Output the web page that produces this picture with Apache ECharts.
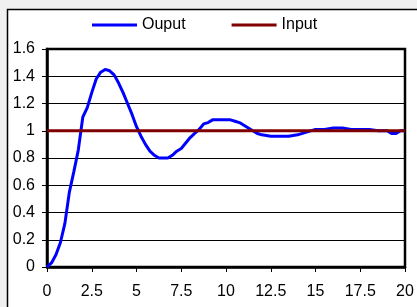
<!DOCTYPE html>
<html>
<head>
<meta charset="utf-8">
<script src="https://cdn.jsdelivr.net/npm/echarts@6/dist/echarts.min.js"></script>
<style>
  html, body { margin: 0; padding: 0; background: #f0f0f0; }
  #chart { width: 417px; height: 307px; }
</style>
</head>
<body>
<div id="chart"></div>
<script>
// step response
var outT = [0, 0.25, 0.5, 0.75, 1, 1.25, 1.5, 1.75, 2, 2.25, 2.5, 2.75, 3, 3.25, 3.5, 3.75, 4, 4.25, 4.5, 4.75,
  5, 5.25, 5.5, 5.75, 6, 6.25, 6.5, 6.75, 7, 7.25, 7.5, 7.75, 8, 8.25, 8.5, 8.75, 9, 9.25, 9.5, 9.75,
  10, 10.25, 10.5, 10.75, 11, 11.25, 11.5, 11.75, 12, 12.5, 13, 13.5, 14, 14.5, 15, 15.5, 16, 16.5,
  17, 17.5, 18, 18.5, 19, 19.25, 19.5, 19.75, 20];
var outY = [0, 0.03, 0.09, 0.18, 0.32, 0.55, 0.70, 0.86, 1.10, 1.17, 1.28, 1.38, 1.43, 1.45, 1.44, 1.41, 1.35, 1.28, 1.20, 1.12,
  1.03, 0.96, 0.90, 0.85, 0.82, 0.80, 0.80, 0.80, 0.82, 0.85, 0.87, 0.91, 0.95, 0.98, 1.01, 1.05, 1.06, 1.08, 1.08, 1.08,
  1.08, 1.08, 1.07, 1.06, 1.04, 1.02, 1.00, 0.98, 0.97, 0.96, 0.96, 0.96, 0.97, 0.99, 1.01, 1.01, 1.02, 1.02,
  1.01, 1.01, 1.01, 1.00, 1.00, 0.98, 0.98, 1.00, 1.00];
var inT = [0, 20];
var inY = [1, 1];

var font = 'Liberation Sans, Arial, sans-serif';

function pairs(xs, ys) {
  return xs.map(function (x, i) { return [x, ys[i]]; });
}

var chart = echarts.init(document.getElementById('chart'));
chart.setOption({
  backgroundColor: '#f0f0f0',
  animation: false,
  graphic: [{
    type: 'rect',
    z: -10,
    shape: { x: 7.5, y: 9.5, width: 420, height: 310 },
    style: { fill: '#ffffff', stroke: '#000000', lineWidth: 1.5 }
  }],
  legend: {
    left: 87,
    top: 12,
    itemWidth: 45,
    itemHeight: 3,
    itemGap: 46,
    icon: 'rect',
    textStyle: { fontFamily: font, fontSize: 16, color: '#000' },
    data: ['Ouput', 'Input']
  },
  grid: {
    left: 47, right: 12, top: 49, bottom: 40,
    show: true,
    borderColor: '#000',
    borderWidth: 2.5,
    backgroundColor: '#ffffff'
  },
  xAxis: {
    type: 'value',
    min: 0, max: 20, interval: 2.5,
    axisLine: { lineStyle: { color: '#000', width: 2.5 } },
    axisTick: { show: true, length: 5, lineStyle: { color: '#000' } },
    axisLabel: { fontFamily: font, fontSize: 16, color: '#000', margin: 17 },
    splitLine: { show: false }
  },
  yAxis: {
    type: 'value',
    min: 0, max: 1.6, interval: 0.2,
    axisLine: { show: true, lineStyle: { color: '#000', width: 2.5 } },
    axisTick: { show: true, length: 5, lineStyle: { color: '#000' } },
    axisLabel: { fontFamily: font, fontSize: 16, color: '#000', margin: 12 },
    splitLine: { show: true, lineStyle: { color: '#000', width: 1 } }
  },
  series: [{
    name: 'Ouput',
    type: 'line',
    data: pairs(outT, outY),
    showSymbol: false,
    color: '#0000ff',
    lineStyle: { width: 3, color: '#0000ff' },
    z: 3
  }, {
    name: 'Input',
    type: 'line',
    data: pairs(inT, inY),
    showSymbol: false,
    color: '#800000',
    lineStyle: { width: 3, color: '#800000' },
    z: 4
  }]
});
</script>
</body>
</html>
